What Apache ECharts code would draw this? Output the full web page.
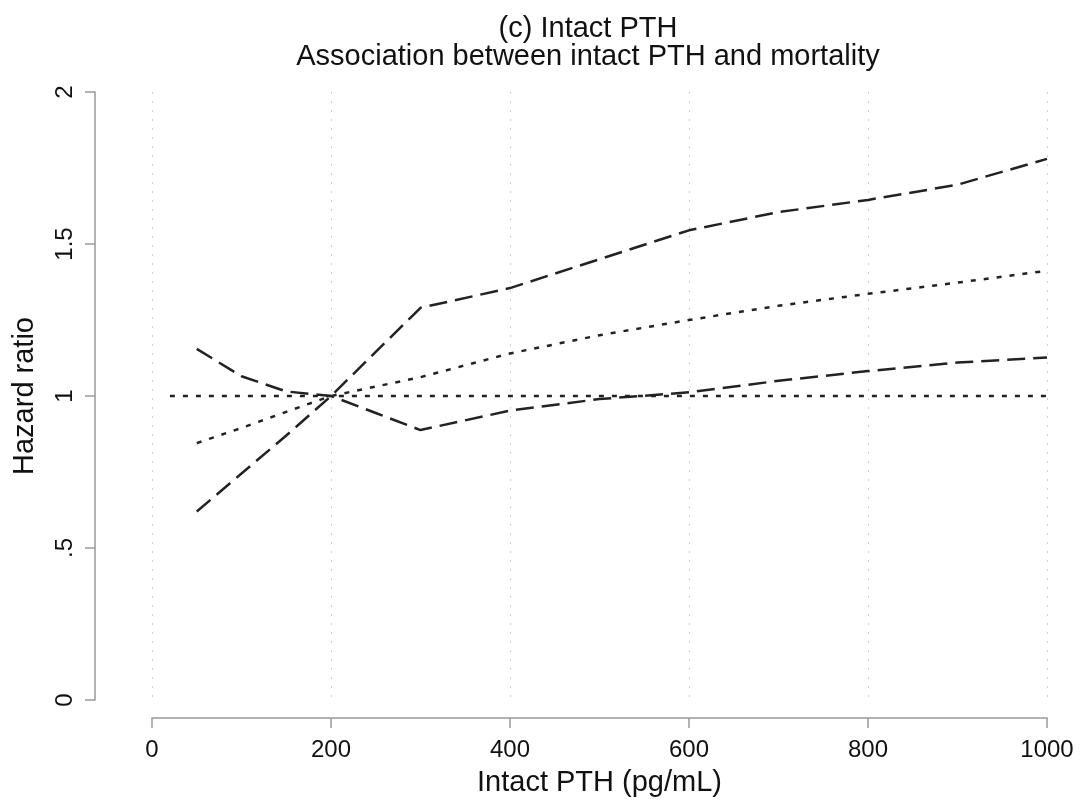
<!DOCTYPE html>
<html>
<head>
<meta charset="utf-8">
<script src="https://cdn.jsdelivr.net/npm/echarts@6/dist/echarts.min.js"></script>
<style>
  html, body { margin: 0; padding: 0; background: #fff; }
  #chart { width: 1081px; height: 807px; }
</style>
</head>
<body>
<div id="chart"></div>
<script>
// intact PTH (pg/mL) and hazard ratio curves
var pth = [50, 100, 150, 200, 250, 300, 400, 500, 600, 700, 800, 900, 1000];
var hrUpper = [0.62, 0.745, 0.87, 1.0, 1.145, 1.29, 1.355, 1.45, 1.545, 1.605, 1.645, 1.695, 1.78];
var hrEst = [0.845, 0.895, 0.948, 1.0, 1.031, 1.062, 1.14, 1.2, 1.25, 1.297, 1.336, 1.373, 1.412];
var hrLower = [1.155, 1.065, 1.015, 1.0, 0.944, 0.888, 0.952, 0.99, 1.012, 1.05, 1.082, 1.11, 1.127];
var refX = [20, 1000];
var refY = [1, 1];
var yTickLabels = { 0: '0', 0.5: '.5', 1: '1', 1.5: '1.5', 2: '2' };

var font = 'Liberation Sans, Arial, sans-serif';
var lineColor = '#222';

function pairs(xs, ys) {
  return xs.map(function (x, i) { return [x, ys[i]]; });
}

function lineSeries(name, data, dash) {
  return {
    name: name,
    type: 'line',
    data: data,
    showSymbol: false,
    symbol: 'none',
    lineStyle: { color: lineColor, width: 2.5, type: dash }
  };
}

var chart = echarts.init(document.getElementById('chart'));
chart.setOption({
  animation: false,
  backgroundColor: '#fff',
  title: {
    text: '(c) Intact PTH\nAssociation between intact PTH and mortality',
    left: 583,
    top: 10,
    textAlign: 'center',
    textStyle: {
      fontFamily: font,
      fontSize: 29,
      fontWeight: 'normal',
      color: '#111',
      lineHeight: 28
    }
  },
  grid: { left: 152, right: 34, top: 92, bottom: 107 },
  xAxis: {
    type: 'value',
    min: 0,
    max: 1000,
    interval: 200,
    offset: 18,
    name: 'Intact PTH (pg/mL)',
    nameLocation: 'middle',
    nameGap: 50,
    nameTextStyle: { fontFamily: font, fontSize: 29, color: '#111' },
    axisLine: { show: true, onZero: false, lineStyle: { color: '#999', width: 1.5 } },
    axisTick: { show: true, length: 10, lineStyle: { color: '#999', width: 1.5 } },
    axisLabel: {
      fontFamily: font, fontSize: 24, color: '#111', margin: 20,
      formatter: function (v) { return String(v); }
    },
    splitLine: { show: true, lineStyle: { color: '#d0d0d0', width: 1, type: [2, 7] } }
  },
  yAxis: {
    type: 'value',
    min: 0,
    max: 2,
    interval: 0.5,
    offset: 57,
    name: 'Hazard ratio',
    nameLocation: 'middle',
    nameGap: 56,
    nameTextStyle: { fontFamily: font, fontSize: 29, color: '#111' },
    axisLine: { show: true, onZero: false, lineStyle: { color: '#999', width: 1.5 } },
    axisTick: { show: true, length: 10, lineStyle: { color: '#999', width: 1.5 } },
    axisLabel: {
      fontFamily: font,
      fontSize: 24,
      color: '#111',
      rotate: 90,
      margin: 18,
      formatter: function (v) { return yTickLabels[v] !== undefined ? yTickLabels[v] : v; }
    },
    splitLine: { show: false }
  },
  series: [
    lineSeries('Reference', pairs(refX, refY), [5, 8]),
    lineSeries('Upper', pairs(pth, hrUpper), [18, 8]),
    lineSeries('Lower', pairs(pth, hrLower), [18, 8]),
    lineSeries('Estimate', pairs(pth, hrEst), [5, 8])
  ]
});
</script>
</body>
</html>
